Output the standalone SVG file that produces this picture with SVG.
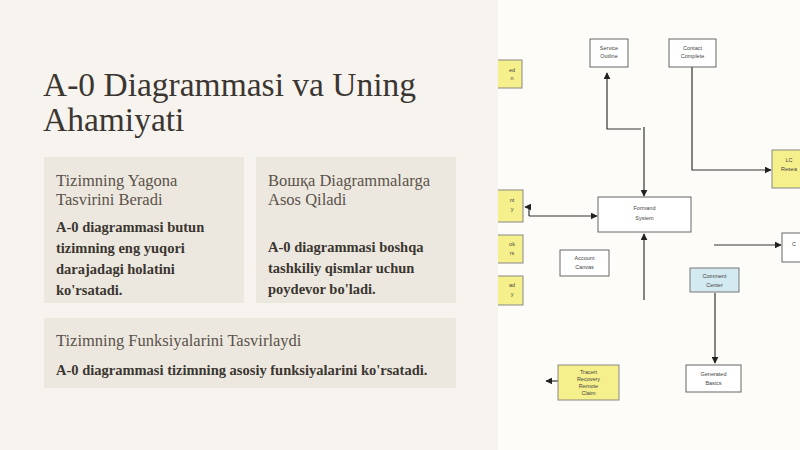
<svg xmlns="http://www.w3.org/2000/svg" width="800" height="450" viewBox="0 0 800 450">
<defs>
<style>
.title{font-family:"Liberation Serif","DejaVu Serif",serif;font-size:33.5px;fill:#3b3631;}
.head{font-family:"Liberation Serif","DejaVu Serif",serif;font-size:16.5px;fill:#5a524a;}
.body{font-family:"Liberation Serif","DejaVu Serif",serif;font-size:14.5px;font-weight:bold;fill:#3b3631;}
.card{fill:#ede8df;}
.box{fill:#ffffff;stroke:#666;stroke-width:1;}
.ybox{fill:#f6f08c;stroke:#888;stroke-width:1;}
.bbox{fill:#d3eaf1;stroke:#777;stroke-width:1;}
.lbl{font-family:"Liberation Sans","DejaVu Sans",sans-serif;font-size:5.5px;fill:#444;text-anchor:middle;}
.con{fill:none;stroke:#333;stroke-width:1.2;}
</style>
<marker id="arr" viewBox="0 0 10 10" refX="9" refY="5" markerWidth="7" markerHeight="7" markerUnits="userSpaceOnUse" orient="auto">
<path d="M0,0 L10,5 L0,10 z" fill="#222"/>
</marker>
<clipPath id="rp"><rect x="498" y="0" width="302" height="450"/></clipPath>
</defs>
<rect x="0" y="0" width="800" height="450" fill="#f7f3ee"/>
<rect x="498" y="0" width="302" height="450" fill="#fdfcf9"/>

<g id="title">
<text class="title" x="43" y="96">A-0 Diagrammasi va Uning</text>
<text class="title" x="43" y="131">Ahamiyati</text>
</g>

<g id="card1">
<rect class="card" x="44" y="157" width="200" height="146"/>
<text class="head" x="56" y="186">Tizimning Yagona</text>
<text class="head" x="56" y="205">Tasvirini Beradi</text>
<text class="body" x="56" y="232">A-0 diagrammasi butun</text>
<text class="body" x="56" y="253">tizimning eng yuqori</text>
<text class="body" x="56" y="274">darajadagi holatini</text>
<text class="body" x="56" y="295">ko'rsatadi.</text>
</g>

<g id="card2">
<rect class="card" x="256" y="157" width="200" height="146"/>
<text class="head" x="268" y="186">Вошқа Diagrammalarga</text>
<text class="head" x="268" y="205">Asos Qiladi</text>
<text class="body" x="268" y="252">A-0 diagrammasi boshqa</text>
<text class="body" x="268" y="273">tashkiliy qismlar uchun</text>
<text class="body" x="268" y="294">poydevor bo'ladi.</text>
</g>

<g id="card3">
<rect class="card" x="44" y="318" width="412" height="70"/>
<text class="head" x="56" y="346">Tizimning Funksiyalarini Tasvirlaydi</text>
<text class="body" x="56" y="375">A-0 diagrammasi tizimning asosiy funksiyalarini ko'rsatadi.</text>
</g>

<g id="diagram" clip-path="url(#rp)">
<g id="connectors">
<path class="con" d="M641,129 H607 V73" marker-end="url(#arr)"/>
<path class="con" d="M644,127 V196" marker-end="url(#arr)"/>
<path class="con" d="M692,67 V170 H771" marker-end="url(#arr)"/>
<path class="con" d="M529,216 V207 H525" marker-end="url(#arr)"/>
<path class="con" d="M529,216 H597" marker-end="url(#arr)"/>
<path class="con" d="M644,300 V234" marker-end="url(#arr)"/>
<path class="con" d="M714,245 H781" marker-end="url(#arr)"/>
<path class="con" d="M715,293 V363" marker-end="url(#arr)"/>
<path class="con" d="M558,381 H546" marker-end="url(#arr)"/>
</g>
<g id="n-yl1"><rect class="ybox" x="482" y="60" width="40" height="28"/><text class="lbl" x="512" y="72">ed</text><text class="lbl" x="512" y="80">n</text></g>
<g id="n-service"><rect class="box" x="590" y="39" width="38" height="28"/><text class="lbl" x="609" y="50">Service</text><text class="lbl" x="609" y="58">Outline</text></g>
<g id="n-contact"><rect class="box" x="669" y="39" width="47" height="28"/><text class="lbl" x="692.5" y="50">Contact</text><text class="lbl" x="692.5" y="58">Complete</text></g>
<g id="n-yr1"><rect class="ybox" x="772" y="150" width="40" height="38"/><text class="lbl" x="789" y="162">LC</text><text class="lbl" x="789" y="171">Resea</text></g>
<g id="n-formand"><rect class="box" x="598" y="197" width="93" height="35"/><text class="lbl" x="644.5" y="210">Formand</text><text class="lbl" x="644.5" y="220">System</text></g>
<g id="n-yl2"><rect class="ybox" x="482" y="190" width="41" height="32"/><text class="lbl" x="512" y="202">nt</text><text class="lbl" x="512" y="211">y</text></g>
<g id="n-yl3"><rect class="ybox" x="482" y="235" width="41" height="28"/><text class="lbl" x="512" y="246">ok</text><text class="lbl" x="512" y="255">rs</text></g>
<g id="n-yl4"><rect class="ybox" x="482" y="276" width="41" height="29"/><text class="lbl" x="512" y="287">ad</text><text class="lbl" x="512" y="296">y</text></g>
<g id="n-account"><rect class="box" x="560" y="250" width="49" height="26"/><text class="lbl" x="584.5" y="260">Account</text><text class="lbl" x="584.5" y="269">Canvas</text></g>
<g id="n-cr"><rect class="box" x="782" y="233" width="30" height="29"/><text class="lbl" x="794" y="246">C</text></g>
<g id="n-comment"><rect class="bbox" x="690" y="268" width="49" height="24"/><text class="lbl" x="714.5" y="278">Comment</text><text class="lbl" x="714.5" y="287">Center</text></g>
<g id="n-generated"><rect class="box" x="686" y="365" width="55" height="27"/><text class="lbl" x="713.5" y="376">Generated</text><text class="lbl" x="713.5" y="385">Basics</text></g>
<g id="n-tracert"><rect class="ybox" x="558" y="365" width="61" height="35"/><text class="lbl" x="588.5" y="374">Tracert</text><text class="lbl" x="588.5" y="381">Recovery</text><text class="lbl" x="588.5" y="388">Remote</text><text class="lbl" x="588.5" y="395">Claim</text></g>
</g>
</svg>
